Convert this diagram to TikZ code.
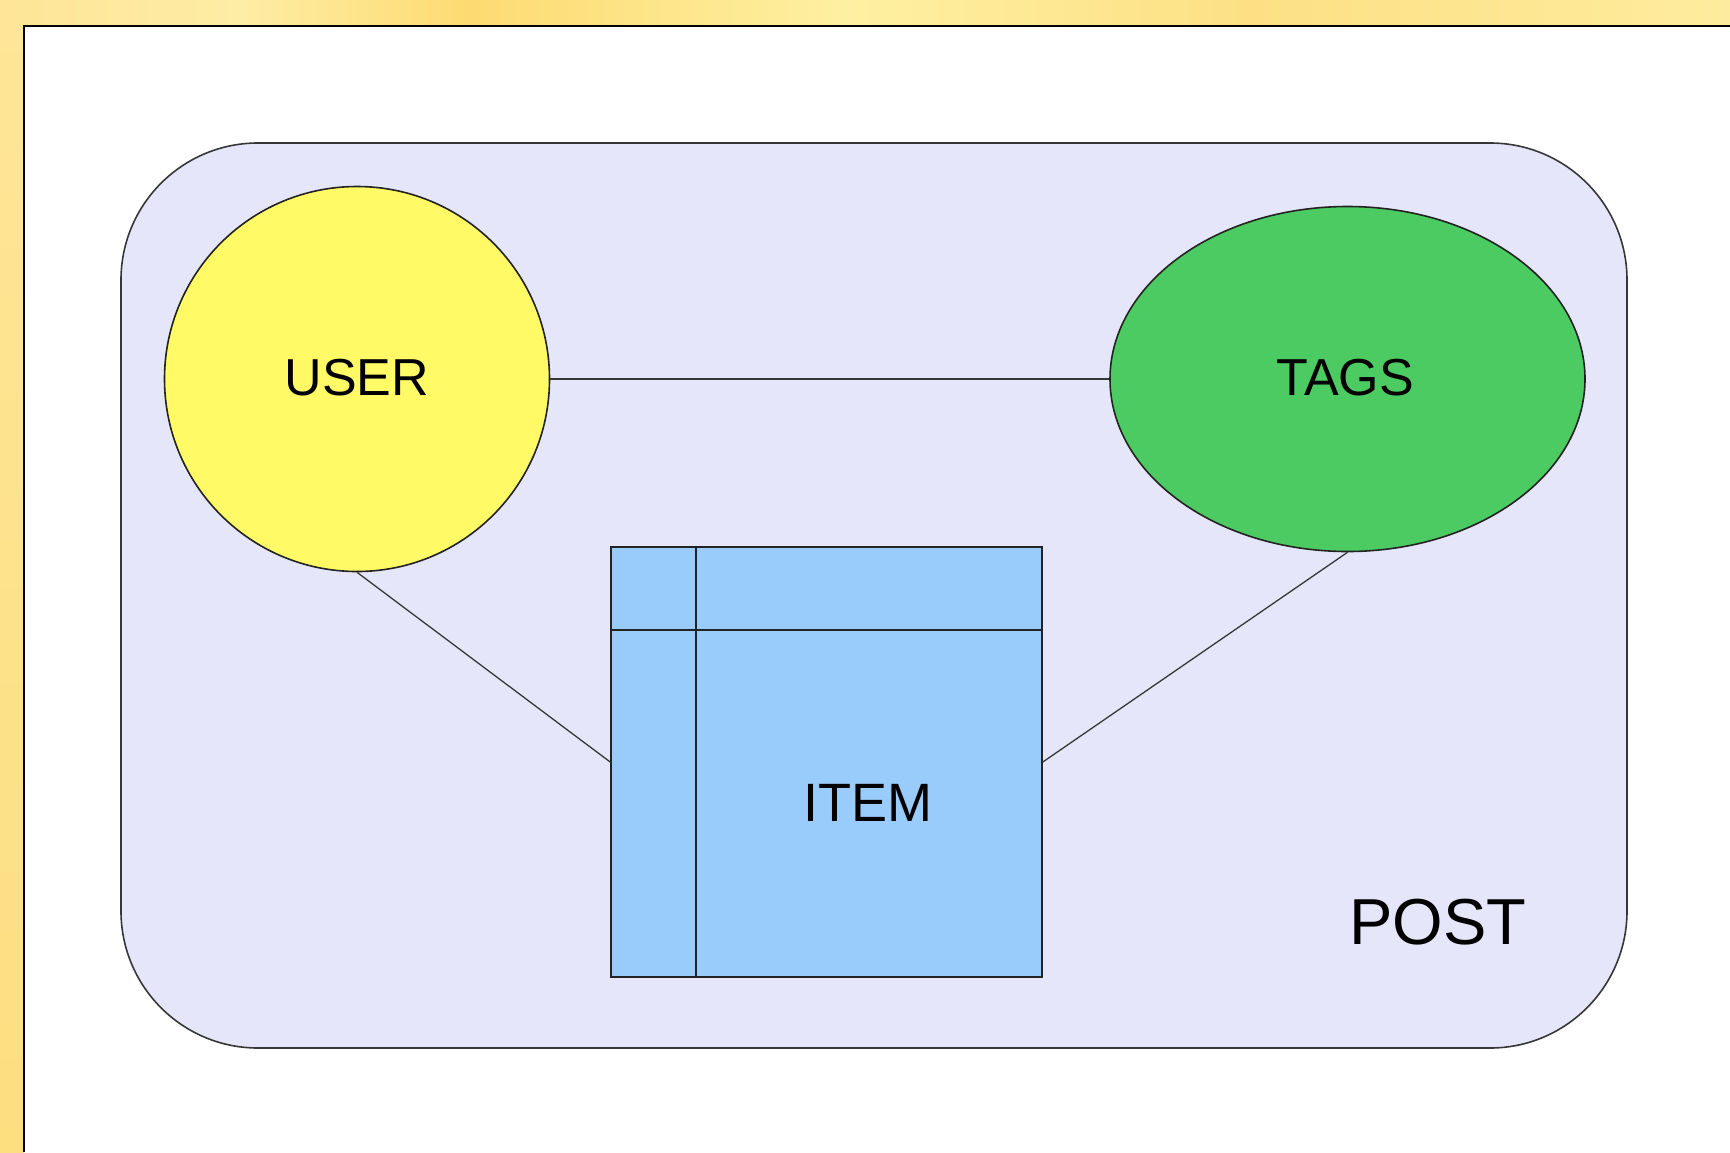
\documentclass[tikz,border=0pt]{standalone}
\usepackage{fontspec}
\setmainfont{Liberation Sans}
\usetikzlibrary{shapes.geometric}

\definecolor{bandA}{RGB}{254,229,151}
\definecolor{bandB}{RGB}{254,237,165}
\definecolor{bandC}{RGB}{253,219,114}
\definecolor{bandD}{RGB}{254,240,162}
\definecolor{bandE}{RGB}{253,224,132}
\definecolor{bandF}{RGB}{254,236,158}
\definecolor{bandL}{RGB}{253,223,128}
\definecolor{postfill}{RGB}{230,230,250}
\definecolor{userfill}{RGB}{255,250,102}
\definecolor{tagsfill}{RGB}{77,203,99}
\definecolor{itemfill}{RGB}{153,204,250}
\definecolor{edge}{RGB}{35,35,35}
\definecolor{link}{RGB}{55,55,55}

\tikzset{
  entity/.style={draw=edge, line width=1.6pt},
  linkline/.style={draw=link, line width=1.3pt},
  caption/.style={font=\fontsize{52}{60}\selectfont, text=black, inner sep=0pt}
}

\begin{document}
\begin{tikzpicture}[x=1pt, y=-1pt]
  \useasboundingbox (0,0) rectangle (1730,1152);

  % page background with a warm band along the top and left edges
  \fill[white] (0,0) rectangle (1730,1152);
  \shade[left color=bandA, right color=bandB] (0,0) rectangle (240,26);
  \shade[left color=bandB, right color=bandC] (240,0) rectangle (470,26);
  \shade[left color=bandC, right color=bandD] (470,0) rectangle (850,26);
  \shade[left color=bandD, right color=bandE] (850,0) rectangle (1250,26);
  \shade[left color=bandE, right color=bandF] (1250,0) rectangle (1730,26);
  \shade[top color=bandA, bottom color=bandL] (0,26) rectangle (24,1152);
  \draw[black, line width=2.5pt] (24,1152) -- (24,26) -- (1730,26);

  % container
  \node[entity, draw=link, fill=postfill, rounded corners=137pt,
        minimum width=1506pt, minimum height=905pt, inner sep=0pt]
        (post) at (874,595.5) {};
  \node[caption, font=\fontsize{65}{72}\selectfont] (postlabel) at (1438,922) {POST};

  % entities
  \node[entity, fill=userfill, circle, minimum size=385pt, inner sep=0pt]
        (user) at (357,379) {};
  \node[caption] (userlabel) at (357,378) {USER};

  \node[entity, fill=tagsfill, ellipse, minimum width=475pt, minimum height=345pt, inner sep=0pt]
        (tags) at (1347.5,379) {};
  \node[caption] (tagslabel) at (1345,378) {TAGS};

  \node[entity, fill=itemfill, rectangle, minimum width=431pt, minimum height=430pt, inner sep=0pt]
        (item) at (826.5,762) {};
  \draw[entity] ([xshift=86pt]item.north west) -- ([xshift=86pt]item.south west);
  \draw[entity] ([yshift=-84pt]item.north west) -- ([yshift=-84pt]item.north east);
  \node[caption, font=\fontsize{54}{60}\selectfont] (itemlabel) at (868,803) {ITEM};

  % relations
  \draw[linkline] (user.east) -- (tags.west);
  \draw[linkline] (user.south) -- (item.west);
  \draw[linkline] (tags.south) -- (item.east);
\end{tikzpicture}
\end{document}
